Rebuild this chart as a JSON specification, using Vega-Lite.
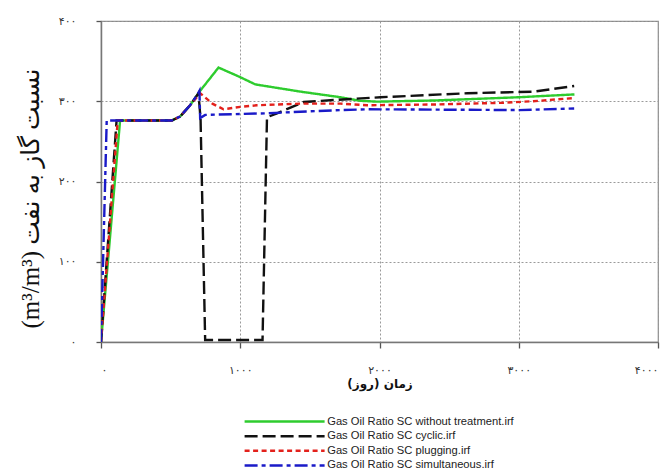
{
  "$schema": "https://vega.github.io/schema/vega-lite/v6.json",
  "width": 557,
  "height": 321,
  "autosize": {"type": "none"},
  "padding": {"left": 101, "top": 21, "right": 10, "bottom": 131},
  "background": "white",
  "config": {
    "view": {"stroke": "#8a8a8a", "strokeWidth": 1.2},
    "axis": {
      "labelFont": "DejaVu Sans",
      "labelFontSize": 11,
      "labelColor": "#333333",
      "domainColor": "#777777",
      "domainWidth": 1.5,
      "tickColor": "#555555",
      "tickWidth": 1.3,
      "gridColor": "#9a9a9a",
      "gridDash": [2, 2],
      "gridWidth": 1
    }
  },
  "data": {
    "values": [
      {"series": "Gas Oil Ratio SC without treatment.irf", "i": 0, "day": 0, "gor": 0},
      {"series": "Gas Oil Ratio SC without treatment.irf", "i": 1, "day": 137, "gor": 276},
      {"series": "Gas Oil Ratio SC without treatment.irf", "i": 2, "day": 508, "gor": 276},
      {"series": "Gas Oil Ratio SC without treatment.irf", "i": 3, "day": 568, "gor": 281},
      {"series": "Gas Oil Ratio SC without treatment.irf", "i": 4, "day": 640, "gor": 295},
      {"series": "Gas Oil Ratio SC without treatment.irf", "i": 5, "day": 712, "gor": 313},
      {"series": "Gas Oil Ratio SC without treatment.irf", "i": 6, "day": 844, "gor": 342},
      {"series": "Gas Oil Ratio SC without treatment.irf", "i": 7, "day": 1000, "gor": 330},
      {"series": "Gas Oil Ratio SC without treatment.irf", "i": 8, "day": 1108, "gor": 321},
      {"series": "Gas Oil Ratio SC without treatment.irf", "i": 9, "day": 1432, "gor": 312},
      {"series": "Gas Oil Ratio SC without treatment.irf", "i": 10, "day": 1720, "gor": 305},
      {"series": "Gas Oil Ratio SC without treatment.irf", "i": 11, "day": 1863, "gor": 300.5},
      {"series": "Gas Oil Ratio SC without treatment.irf", "i": 12, "day": 1983, "gor": 299.5},
      {"series": "Gas Oil Ratio SC without treatment.irf", "i": 13, "day": 2400, "gor": 301},
      {"series": "Gas Oil Ratio SC without treatment.irf", "i": 14, "day": 3000, "gor": 305},
      {"series": "Gas Oil Ratio SC without treatment.irf", "i": 15, "day": 3400, "gor": 308.5},

      {"series": "Gas Oil Ratio SC cyclic.irf", "i": 0, "day": 0, "gor": 0},
      {"series": "Gas Oil Ratio SC cyclic.irf", "i": 1, "day": 112, "gor": 276},
      {"series": "Gas Oil Ratio SC cyclic.irf", "i": 2, "day": 508, "gor": 276},
      {"series": "Gas Oil Ratio SC cyclic.irf", "i": 3, "day": 568, "gor": 281},
      {"series": "Gas Oil Ratio SC cyclic.irf", "i": 4, "day": 640, "gor": 295},
      {"series": "Gas Oil Ratio SC cyclic.irf", "i": 5, "day": 700, "gor": 310},
      {"series": "Gas Oil Ratio SC cyclic.irf", "i": 6, "day": 715, "gor": 278},
      {"series": "Gas Oil Ratio SC cyclic.irf", "i": 7, "day": 748, "gor": 2.5},
      {"series": "Gas Oil Ratio SC cyclic.irf", "i": 8, "day": 1160, "gor": 2.5},
      {"series": "Gas Oil Ratio SC cyclic.irf", "i": 9, "day": 1192, "gor": 280},
      {"series": "Gas Oil Ratio SC cyclic.irf", "i": 10, "day": 1264, "gor": 285},
      {"series": "Gas Oil Ratio SC cyclic.irf", "i": 11, "day": 1455, "gor": 299},
      {"series": "Gas Oil Ratio SC cyclic.irf", "i": 12, "day": 1671, "gor": 301.5},
      {"series": "Gas Oil Ratio SC cyclic.irf", "i": 13, "day": 2007, "gor": 305},
      {"series": "Gas Oil Ratio SC cyclic.irf", "i": 14, "day": 2631, "gor": 310},
      {"series": "Gas Oil Ratio SC cyclic.irf", "i": 15, "day": 3110, "gor": 312},
      {"series": "Gas Oil Ratio SC cyclic.irf", "i": 16, "day": 3398, "gor": 319},

      {"series": "Gas Oil Ratio SC plugging.irf", "i": 0, "day": 0, "gor": 0},
      {"series": "Gas Oil Ratio SC plugging.irf", "i": 1, "day": 120, "gor": 276},
      {"series": "Gas Oil Ratio SC plugging.irf", "i": 2, "day": 508, "gor": 276},
      {"series": "Gas Oil Ratio SC plugging.irf", "i": 3, "day": 568, "gor": 281},
      {"series": "Gas Oil Ratio SC plugging.irf", "i": 4, "day": 640, "gor": 295},
      {"series": "Gas Oil Ratio SC plugging.irf", "i": 5, "day": 712, "gor": 310},
      {"series": "Gas Oil Ratio SC plugging.irf", "i": 6, "day": 800, "gor": 297},
      {"series": "Gas Oil Ratio SC plugging.irf", "i": 7, "day": 880, "gor": 290},
      {"series": "Gas Oil Ratio SC plugging.irf", "i": 8, "day": 1000, "gor": 293},
      {"series": "Gas Oil Ratio SC plugging.irf", "i": 9, "day": 1120, "gor": 295},
      {"series": "Gas Oil Ratio SC plugging.irf", "i": 10, "day": 1432, "gor": 297},
      {"series": "Gas Oil Ratio SC plugging.irf", "i": 11, "day": 1720, "gor": 297},
      {"series": "Gas Oil Ratio SC plugging.irf", "i": 12, "day": 1911, "gor": 295},
      {"series": "Gas Oil Ratio SC plugging.irf", "i": 13, "day": 2400, "gor": 296},
      {"series": "Gas Oil Ratio SC plugging.irf", "i": 14, "day": 2871, "gor": 298},
      {"series": "Gas Oil Ratio SC plugging.irf", "i": 15, "day": 3100, "gor": 300},
      {"series": "Gas Oil Ratio SC plugging.irf", "i": 16, "day": 3398, "gor": 304},

      {"series": "Gas Oil Ratio SC simultaneous.irf", "i": 0, "day": 0, "gor": 0},
      {"series": "Gas Oil Ratio SC simultaneous.irf", "i": 1, "day": 41, "gor": 276},
      {"series": "Gas Oil Ratio SC simultaneous.irf", "i": 2, "day": 508, "gor": 276},
      {"series": "Gas Oil Ratio SC simultaneous.irf", "i": 3, "day": 568, "gor": 281},
      {"series": "Gas Oil Ratio SC simultaneous.irf", "i": 4, "day": 640, "gor": 295},
      {"series": "Gas Oil Ratio SC simultaneous.irf", "i": 5, "day": 688, "gor": 307},
      {"series": "Gas Oil Ratio SC simultaneous.irf", "i": 6, "day": 707, "gor": 313},
      {"series": "Gas Oil Ratio SC simultaneous.irf", "i": 7, "day": 712, "gor": 279},
      {"series": "Gas Oil Ratio SC simultaneous.irf", "i": 8, "day": 748, "gor": 283},
      {"series": "Gas Oil Ratio SC simultaneous.irf", "i": 9, "day": 1192, "gor": 285},
      {"series": "Gas Oil Ratio SC simultaneous.irf", "i": 10, "day": 1432, "gor": 287},
      {"series": "Gas Oil Ratio SC simultaneous.irf", "i": 11, "day": 1720, "gor": 289},
      {"series": "Gas Oil Ratio SC simultaneous.irf", "i": 12, "day": 1911, "gor": 290},
      {"series": "Gas Oil Ratio SC simultaneous.irf", "i": 13, "day": 3000, "gor": 289},
      {"series": "Gas Oil Ratio SC simultaneous.irf", "i": 14, "day": 3398, "gor": 291}
    ]
  },
  "mark": {"type": "line", "strokeWidth": 2.4, "clip": true},
  "encoding": {
    "x": {
      "field": "day",
      "type": "quantitative",
      "scale": {"domain": [0, 4000], "nice": false},
      "axis": {
        "values": [0, 1000, 2000, 3000, 4000],
        "tickSize": 6,
        "labelPadding": 16,
        "labelExpr": "replace(replace(replace(replace(replace(format(datum.value,'d'),regexp('0','g'),'۰'),regexp('1','g'),'۱'),regexp('2','g'),'۲'),regexp('3','g'),'۳'),regexp('4','g'),'۴')",
        "title": "زمان (روز)\u200f",
        "titleFont": "DejaVu Sans",
        "titleFontSize": 12,
        "titleFontWeight": "bold",
        "titleColor": "#111111",
        "titlePadding": 3
      }
    },
    "y": {
      "field": "gor",
      "type": "quantitative",
      "scale": {"domain": [0, 400], "nice": false},
      "axis": {
        "values": [0, 100, 200, 300, 400],
        "tickSize": 5,
        "labelPadding": 20,
        "labelExpr": "replace(replace(replace(replace(replace(format(datum.value,'d'),regexp('0','g'),'۰'),regexp('1','g'),'۱'),regexp('2','g'),'۲'),regexp('3','g'),'۳'),regexp('4','g'),'۴')",
        "title": "(m³/m³) نسبت گاز به نفت",
        "titleFont": "Liberation Serif, DejaVu Sans",
        "titleFontSize": 25,
        "titleFontWeight": "normal",
        "titleColor": "#111111",
        "titleAngle": -90,
        "titleBaseline": "middle",
        "titleX": -71,
        "titleY": 177
      }
    },
    "order": {"field": "i", "type": "quantitative"},
    "color": {
      "field": "series",
      "type": "nominal",
      "scale": {
        "domain": ["Gas Oil Ratio SC without treatment.irf", "Gas Oil Ratio SC cyclic.irf", "Gas Oil Ratio SC plugging.irf", "Gas Oil Ratio SC simultaneous.irf"],
        "range": ["#2ecc2e", "#111111", "#e3211c", "#1a1ac8"]
      },
      "legend": {
        "title": null,
        "orient": "none",
        "legendX": 178,
        "legendY": 395,
        "padding": 0,
        "symbolType": "M-10,0H10",
        "symbolSize": 64,
        "symbolStrokeWidth": 2.5,
        "labelOffset": 37,
        "labelFont": "Liberation Sans",
        "labelFontSize": 11.2,
        "labelColor": "#222222",
        "rowPadding": 2.6,
        "labelLimit": 400
      }
    },
    "strokeDash": {
      "field": "series",
      "type": "nominal",
      "scale": {
        "domain": ["Gas Oil Ratio SC without treatment.irf", "Gas Oil Ratio SC cyclic.irf", "Gas Oil Ratio SC plugging.irf", "Gas Oil Ratio SC simultaneous.irf"],
        "range": [[1, 0], [13, 5], [5, 3.5], [13, 4, 4, 4]]
      }
    }
  }
}
